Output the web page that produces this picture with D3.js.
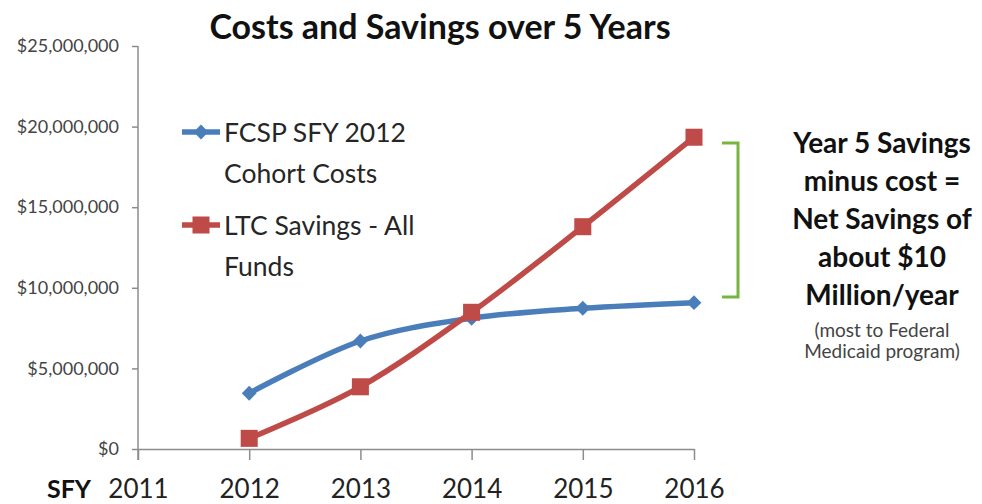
<!DOCTYPE html>
<html lang="en">
  <head>
      <meta charset="utf-8">
      <title>Costs and Savings over 5 Years</title>
      <script type="text/javascript" src="https://cdn.jsdelivr.net/npm/d3@7/dist/d3.min.js"></script>
      <style>
        body { margin: 0; background: #fff; }
        text { font-family: Lato, "Open Sans", sans-serif; }
      </style>
  </head>
  <body>
      <script type="text/javascript">

      // data
      var years = [2011, 2012, 2013, 2014, 2015, 2016];
      var costYears = [2012, 2013, 2014, 2015, 2016];
      var fcspCosts = [3460000, 6700000, 8110000, 8730000, 9080000];
      var ltcSavings = [660000, 3860000, 8480000, 13790000, 19340000];
      var yTicks = [0, 5000000, 10000000, 15000000, 20000000, 25000000];
      var legendLabels = [["FCSP SFY 2012", "Cohort Costs"], ["LTC Savings - All", "Funds"]];
      var noteLines = ["Year 5 Savings", "minus cost =", "Net Savings of", "about $10", "Million/year"];
      var smallLines = ["(most to Federal", "Medicaid program)"];

      var w = 982;
      var h = 504;
      var blue = "#4a7ebb";
      var red = "#be4b48";
      var green = "#77b540";
      var axisColor = "#8c8c8c";

      var svg = d3.select("body").append("svg").attr("width", w).attr("height", h);

      var x = d3.scalePoint().domain(years).range([138, 694]);
      var y = d3.scaleLinear().domain([0, 25000000]).range([449, 46]);

      // title
      svg.append("text").text("Costs and Savings over 5 Years")
        .attr("x", 440).attr("y", 39).attr("text-anchor", "middle")
        .attr("font-size", "34px").attr("font-weight", "bold").attr("fill", "#111");

      // y axis
      var yAxis = svg.append("g").attr("transform", "translate(138,0)")
        .call(d3.axisLeft(y).tickValues(yTicks).tickSize(6).tickPadding(13)
          .tickFormat(function(d){ return "$" + d3.format(",")(d); }));
      yAxis.select(".domain").attr("stroke", axisColor).attr("stroke-width", 1.5)
        .attr("d", "M0,46V460");
      yAxis.selectAll(".tick line").attr("stroke", axisColor).attr("stroke-width", 1.5);
      yAxis.selectAll(".tick text").attr("font-size", "18px").attr("fill", "#444")
        .attr("font-family", "Lato, sans-serif");

      // x axis
      var xAxis = svg.append("g").attr("transform", "translate(0,449)")
        .call(d3.axisBottom(x).tickSize(11).tickPadding(20).tickSizeOuter(0));
      xAxis.select(".domain").attr("stroke", axisColor).attr("stroke-width", 1.5);
      xAxis.selectAll(".tick line").attr("stroke", axisColor).attr("stroke-width", 1.5);
      xAxis.selectAll(".tick text").attr("font-size", "26px").attr("fill", "#222")
        .attr("font-family", "Lato, sans-serif");

      svg.append("text").text("SFY").attr("x", 47).attr("y", 498)
        .attr("font-size", "25px").attr("font-weight", "bold").attr("fill", "#111");

      var line = d3.line().curve(d3.curveCatmullRom.alpha(0))
        .x(function(d){ return x(d[0]); }).y(function(d){ return y(d[1]); });

      var blueData = costYears.map(function(d, i){ return [d, fcspCosts[i]]; });
      var redData = costYears.map(function(d, i){ return [d, ltcSavings[i]]; });

      svg.append("path").datum(blueData).attr("d", line).attr("fill", "none")
        .attr("stroke", blue).attr("stroke-width", 5.5);

      svg.append("path").datum(redData).attr("d", line).attr("fill", "none")
        .attr("stroke", red).attr("stroke-width", 5.5);

      var diamond = d3.symbol().type(d3.symbolDiamond2).size(140);
      var square = d3.symbol().type(d3.symbolSquare).size(290);

      svg.selectAll("path.blue-pt").data(blueData).enter().append("path")
        .attr("class", "blue-pt").attr("d", diamond)
        .attr("transform", function(d){ return "translate(" + x(d[0]) + "," + y(d[1]) + ")"; })
        .attr("fill", blue);

      svg.selectAll("path.red-pt").data(redData).enter().append("path")
        .attr("class", "red-pt").attr("d", square)
        .attr("transform", function(d){ return "translate(" + x(d[0]) + "," + y(d[1]) + ")"; })
        .attr("fill", red);

      // legend
      var legendY = [132, 225];
      var legendColors = [blue, red];
      var legendShapes = [diamond, square];
      legendLabels.forEach(function(lbl, i){
        svg.append("line").attr("x1", 182).attr("x2", 220)
          .attr("y1", legendY[i]).attr("y2", legendY[i])
          .attr("stroke", legendColors[i]).attr("stroke-width", 5.5);
        svg.append("path").attr("d", legendShapes[i])
          .attr("transform", "translate(201," + legendY[i] + ")").attr("fill", legendColors[i]);
        lbl.forEach(function(t, j){
          svg.append("text").text(t).attr("x", 224).attr("y", legendY[i] + 10 + j * 41)
            .attr("font-size", "26.5px").attr("fill", "#262626");
        });
      });

      // bracket
      svg.append("path").attr("d", "M722,143H738V297H722").attr("fill", "none")
        .attr("stroke", green).attr("stroke-width", 3);

      // note
      svg.selectAll("text.note").data(noteLines).enter().append("text")
        .attr("class", "note").text(function(d){ return d; })
        .attr("x", 882).attr("y", function(d, i){ return 153 + i * 38; })
        .attr("text-anchor", "middle").attr("font-size", "28px")
        .attr("font-weight", "bold").attr("fill", "#111");

      svg.selectAll("text.small").data(smallLines).enter().append("text")
        .attr("class", "small").text(function(d){ return d; })
        .attr("x", 882).attr("y", function(d, i){ return 337 + i * 21; })
        .attr("text-anchor", "middle").attr("font-size", "19px").attr("fill", "#444");

      </script>
  </body>
</html>
